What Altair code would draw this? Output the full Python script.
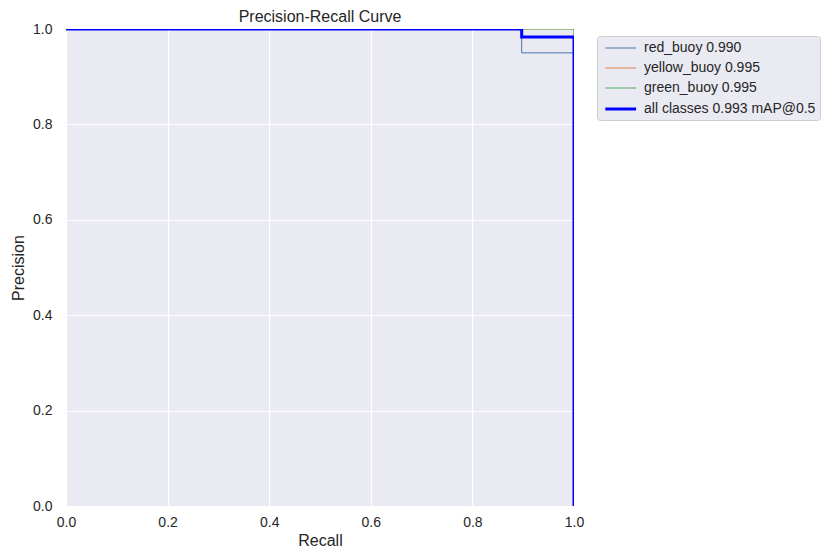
import altair as alt
import pandas as pd

labels = ["red_buoy 0.990", "yellow_buoy 0.995", "green_buoy 0.995", "all classes 0.993 mAP@0.5"]
colors = ["#4C72B0", "#DD8452", "#55A868", "#0000FF"]
widths = [1, 1, 1, 3]

red_recall = [0.0, 0.897, 0.897, 1.0, 1.0]
red_precision = [1.0, 1.0, 0.95, 0.95, 0.0]
yellow_recall = [0.0, 1.0, 1.0]
yellow_precision = [1.0, 1.0, 0.0]
green_recall = [0.0, 1.0, 1.0]
green_precision = [1.0, 1.0, 0.0]
all_recall = [0.0, 0.897, 0.897, 1.0, 1.0]
all_precision = [1.0, 1.0, 0.983, 0.983, 0.0]

rows = []
for lab, rs, ps in [(labels[0], red_recall, red_precision),
                    (labels[1], yellow_recall, yellow_precision),
                    (labels[2], green_recall, green_precision)]:
    for i, (r, p) in enumerate(zip(rs, ps)):
        rows.append({"series": lab, "recall": r, "precision": p, "idx": i})
df_cls = pd.DataFrame(rows)
df_all = pd.DataFrame({"series": labels[3], "recall": all_recall,
                       "precision": all_precision, "idx": list(range(len(all_recall)))})

font = "Liberation Sans"
ticks = [0, 0.2, 0.4, 0.6, 0.8, 1.0]
xenc = alt.X("recall:Q", scale=alt.Scale(domain=[0, 1], nice=False, zero=False),
             axis=alt.Axis(title="Recall", values=ticks, format=".1f", labelFlush=False,
                           labelPadding=9, titlePadding=3))
yenc = alt.Y("precision:Q", scale=alt.Scale(domain=[0, 1], nice=False, zero=False),
             axis=alt.Axis(title="Precision", values=ticks, format=".1f", labelFlush=False,
                           labelPadding=14, titlePadding=6))

def mk_legend():
    return alt.Legend(title=None, orient="none", legendX=531, legendY=7,
                      symbolType="M-0.6,0.0714H3.8", symbolSize=196, labelFontSize=14,
                      labelFont=font, labelColor="#262626", labelOffset=26, labelLimit=400,
                      fillColor="#EAEAF2", strokeColor="#CCCCCC",
                      padding=4, cornerRadius=3, rowPadding=5)

color = alt.Color("series:N", scale=alt.Scale(domain=labels, range=colors), legend=mk_legend())
sw = alt.StrokeWidth("series:N", scale=alt.Scale(type="ordinal", domain=labels, range=widths),
                     legend=mk_legend())

cls = alt.Chart(df_cls).mark_line(clip=True).encode(
    x=xenc, y=yenc, color=color, strokeWidth=sw, order="idx:Q", detail="series:N")
allc = alt.Chart(df_all).mark_line(clip=True).encode(
    x=xenc, y=yenc, color=color, strokeWidth=sw, order="idx:Q")

chart = alt.layer(cls, allc).properties(
    width=508, height=477,
    title=alt.Title("Precision-Recall Curve", font=font, fontSize=16, fontWeight="normal",
                    color="#262626", offset=-3),
    autosize=alt.AutoSizeParams(type="none"),
    padding={"left": 58, "top": 21, "right": 254, "bottom": 42},
).configure_view(fill="#EAEAF2", stroke=None).configure_axis(
    grid=True, gridColor="white", gridWidth=1.1, domain=False, ticks=False,
    labelFont=font, labelFontSize=14, labelColor="#262626",
    titleFont=font, titleFontSize=16, titleFontWeight="normal", titleColor="#262626",
)

chart.save("out.html", embed_options={"renderer": "svg", "actions": False})
